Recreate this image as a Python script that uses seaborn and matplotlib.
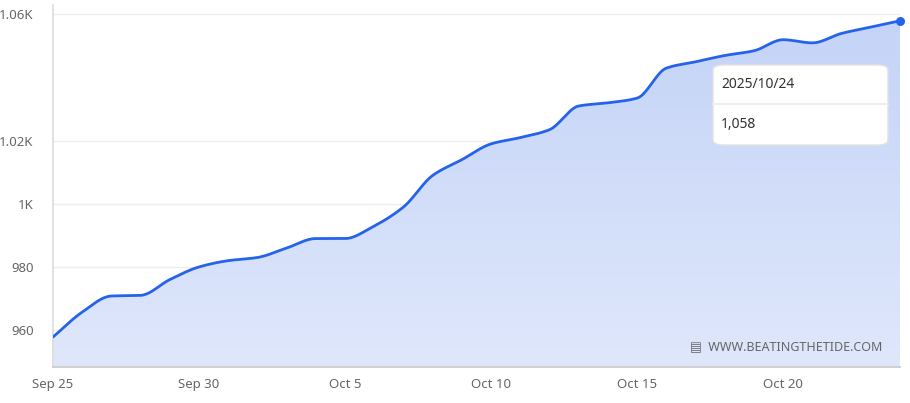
import numpy as np
import pandas as pd
import matplotlib.pyplot as plt
import seaborn as sns
from matplotlib.patches import FancyBboxPatch

dates = pd.date_range("2025-09-25", "2025-10-24", freq="D")
values = [957.8, 965.7, 970.8, 971, 976, 980, 982, 983, 986, 989, 989, 993, 999,
          1009, 1014, 1019, 1021, 1023.5, 1031, 1032, 1033.5, 1043, 1045, 1047,
          1048.5, 1052, 1051, 1054, 1056, 1058]
tick_dates = ["2025-09-25", "2025-09-30", "2025-10-05", "2025-10-10", "2025-10-15", "2025-10-20"]
tick_labels = ["Sep 25", "Sep 30", "Oct 5", "Oct 10", "Oct 15", "Oct 20"]
y_ticks = [960, 980, 1000, 1020, 1060]
y_labels = ["960", "980", "1K", "1.02K", "1.06K"]


def pchip(x, y, xs):
    # monotone cubic, only for drawing a smooth line through the points
    h = np.diff(x); d = np.diff(y) / h
    m = np.zeros_like(y)
    for k in range(1, len(y) - 1):
        if d[k - 1] * d[k] > 0:
            w1 = 2 * h[k] + h[k - 1]; w2 = h[k] + 2 * h[k - 1]
            m[k] = (w1 + w2) / (w1 / d[k - 1] + w2 / d[k])
    m[0], m[-1] = d[0], d[-1]
    idx = np.clip(np.searchsorted(x, xs) - 1, 0, len(h) - 1)
    t = (xs - x[idx]) / h[idx]
    h00 = 2*t**3 - 3*t**2 + 1; h10 = t**3 - 2*t**2 + t
    h01 = -2*t**3 + 3*t**2; h11 = t**3 - t**2
    return h00*y[idx] + h10*h[idx]*m[idx] + h01*y[idx+1] + h11*h[idx]*m[idx+1]


sns.set_theme(style="white")
plt.rcParams['font.family'] = ['Segoe UI', 'Noto Sans', 'DejaVu Sans']
fig = plt.figure(figsize=(9.1, 4.03), dpi=100)
ax = fig.add_axes([53/910, 36/403, 847/910, 362/403])

xn = np.arange(len(values), dtype=float)
xs = np.linspace(0, xn[-1], 600)
ys = pchip(xn, np.array(values, dtype=float), xs)
x_dates = dates[0] + pd.to_timedelta(xs, unit="D")
ymin, ymax = 948.3, 1063

# gradient fill under the curve
grad = np.linspace(0, 1, 256).reshape(-1, 1)
im = ax.imshow(grad, aspect="auto", cmap=plt.matplotlib.colors.LinearSegmentedColormap.from_list(
    "g", ["#dfe7fb", "#c3d3f7"]), extent=[x_dates[0], x_dates[-1], ymin, ymax], origin="lower", zorder=1)
poly = ax.fill_between(x_dates, ys, ymin, color="none")
im.set_clip_path(poly.get_paths()[0], transform=ax.transData)

sns.lineplot(x=x_dates, y=ys, ax=ax, color="#2563eb", linewidth=2, zorder=3)
ax.scatter([dates[-1]], [values[-1]], s=30, color="#2563eb", zorder=4, clip_on=False)

ax.set_xlim(dates[0], dates[-1])
ax.set_ylim(ymin, ymax)
ax.set_yticks(y_ticks, y_labels)
ax.set_xticks(pd.to_datetime(tick_dates), tick_labels)
ax.grid(axis="y", color="#eeeeee", linewidth=1, zorder=0)
ax.tick_params(axis="both", labelsize=9.5, colors="#666666", length=0, pad=8)
ax.tick_params(axis="y", pad=14)
for s in ["top", "right"]:
    ax.spines[s].set_visible(False)
ax.spines["left"].set_color("#dddddd")
ax.spines["bottom"].set_color("#cccccc")
ax.set_xlabel(""); ax.set_ylabel("")

# tooltip
box = FancyBboxPatch((713/910, 1 - 145/403), 175/910, 80/403, boxstyle="round,pad=0,rounding_size=0.012",
                     transform=fig.transFigure, facecolor="white", edgecolor="#e2e2e2", zorder=10)
fig.patches.append(box)
sep = plt.Line2D([713/910, 888/910], [1 - 104/403] * 2, transform=fig.transFigure, color="#eeeeee", zorder=11)
fig.lines.append(sep)
fig.text(721/910, 1 - 84/403, "2025/10/24", fontsize=10, color="#333333", va="center", zorder=12)
fig.text(721/910, 1 - 125/403, "1,058", fontsize=10, color="#333333", va="center", zorder=12)
fig.text(882/910, 1 - 347/403, "\u25a4  WWW.BEATINGTHETIDE.COM", fontsize=9, color="#666666",
         ha="right", va="center")

fig.savefig("out.png", dpi=100)
